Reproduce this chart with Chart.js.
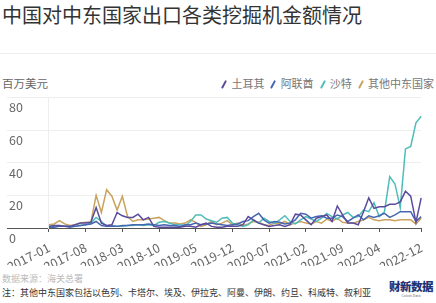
<!DOCTYPE html>
<html>
<head>
<meta charset="utf-8">
<script src="https://cdn.jsdelivr.net/npm/chart.js@4/dist/chart.umd.min.js"></script>
<style>
  body { margin: 0; width: 436px; height: 303px; position: relative; overflow: hidden; background: #fff;
         font-family: "Noto Sans CJK SC", "Noto Sans", sans-serif; }
  .title { position: absolute; left: 2px; top: 1px; font-size: 20px; line-height: 28px; color: #333; white-space: nowrap; }
  .sep { position: absolute; left: 0; right: 0; top: 53px; border-top: 1px solid #eee; }
  .unit { position: absolute; left: 2px; top: 75px; font-size: 11.5px; line-height: 16px; color: #666; }
  .legend { position: absolute; right: 2px; top: 75px; font-size: 11px; line-height: 16px; color: #777; white-space: nowrap; }
  .legend span { margin-left: 8px; }
  .legend i { display: inline-block; width: 2.2px; height: 9px; margin-right: 6px; border-radius: 1px;
              transform: rotate(28deg); vertical-align: -1px; }
  #wrap { position: absolute; left: 0; top: 90px; width: 436px; height: 176px; }
  .source { position: absolute; left: 2px; top: 273px; font-size: 9px; line-height: 12px; color: #bbb; }
  .note { position: absolute; left: 2px; top: 287px; font-size: 9px; line-height: 12px; color: #333; white-space: nowrap; }
  .logo { position: absolute; right: 2px; top: 280px; width: 46px; text-align: center; color: #1e3478; }
  .logo b { display: block; font-size: 11.5px; line-height: 13px; font-weight: 900; letter-spacing: -0.5px; }
  .logo small { display: block; font-size: 6px; line-height: 6px; transform: scale(0.6); color: #667; }
</style>
</head>
<body>
<div class="title">中国对中东国家出口各类挖掘机金额情况</div>
<div class="sep"></div>
<div class="unit">百万美元</div>
<div class="legend" id="legend"></div>
<div id="wrap"><canvas id="chart"></canvas></div>
<div class="source">数据来源：海关总署</div>
<div class="note">注：其他中东国家包括以色列、卡塔尔、埃及、伊拉克、阿曼、伊朗、约旦、科威特、叙利亚</div>
<div class="logo"><b>财新数据</b><small>Caixin Data</small></div>
<script>
// 2017-01 ... 2022-12, monthly
const months = [];
for (let y = 2017; y <= 2022; y++) {
    for (let m = 1; m <= 12; m++) months.push(y + '-' + String(m).padStart(2, '0'));
}
const tickLabels = ['2017-01', '2017-08', '2018-03', '2018-10', '2019-05', '2019-12',
                    '2020-07', '2021-02', '2021-09', '2022-04', '2022-12'];
const yTicks = [0, 20, 40, 60, 80];

// 百万美元
const turkey = [1, 1.5, 1.5, 1, 1, 2, 3, 3, 3.5, 12.5, 3, 1.5,
                2, 9.5, 7.5, 6.5, 6.5, 8.5, 5, 6.5, 1, 0.5, 0.5, 0.5,
                0.5, 0.5, 1, 1, 0.5, 2, 3, 1, 0.5, 0.5, 1, 1,
                1, 2, 7, 5, 3, 2, 1, 1.5, 2, 1, 2, 8.5,
                8, 5, 2, 6, 7, 8, 4, 13.5, 8, 3, 3, 2,
                10, 18.5, 12, 13, 13, 14.5, 14.5, 16, 22.5, 19.5, 3.5, 18.5];
const uae = [0.5, 0.5, 1, 1, 0.5, 1, 1.5, 2, 2.5, 4, 1.5, 1,
             1, 1, 1.5, 1.5, 2, 2, 2, 2.5, 2, 1.5, 2, 1.5,
             1.5, 1, 2, 2, 3, 2, 2.5, 3, 2.5, 2, 1.5, 2,
             2.5, 4, 4.5, 7, 9, 5, 3, 4, 3.5, 2.5, 3, 5,
             9, 8.5, 6, 7, 7.5, 6, 6, 8, 7, 4, 6, 8,
             5, 7.5, 6.5, 7.5, 9, 6.5, 8, 10, 10, 10, 4, 7];
const saudi = [1, 1, 1.5, 1, 1, 1, 1.5, 2, 3, 6.5, 4, 1,
               1.5, 1, 1, 1.5, 1.5, 2, 1.5, 2, 1.5, 3.5, 4, 3,
               2, 2, 1.5, 4, 8, 8, 5.5, 4.5, 3.5, 6, 6.5, 3,
               2, 1, 2, 5, 3, 6, 4, 3, 5, 7.5, 4, 2.5,
               5, 7, 5.5, 4, 6, 9, 7, 5.5, 8, 9.5, 6.5, 7,
               11, 10, 15.5, 7, 10, 31.5, 27, 12.5, 48.5, 50, 64.5, 68.5];
const others = [2, 2.5, 4.5, 2.5, 1.5, 2, 3, 3.5, 3.5, 20, 9.5, 23.5,
                19.5, 11, 19.5, 7, 4, 5, 5, 5.5, 6, 6.5, 4.5, 3,
                3, 2.5, 3, 5, 3.5, 1, 2, 4, 2, 3, 4.5, 2,
                3, 1.5, 2.5, 4, 3.5, 2, 1.5, 3, 2.5, 4, 2, 3,
                4, 3, 2.5, 4, 3, 5.5, 4, 6, 3.5, 3, 3, 4,
                5, 6.5, 5, 4.5, 5, 5, 4.5, 5, 5, 5, 2.5, 6];

const font = { family: '"Noto Sans CJK SC", "Noto Sans", sans-serif', size: 12.5 };

const datasets = [
    { label: '土耳其', data: turkey, borderColor: '#5a4b9c' },
    { label: '阿联酋', data: uae, borderColor: '#4766b1' },
    { label: '沙特', data: saudi, borderColor: '#4fbdb8' },
    { label: '其他中东国家', data: others, borderColor: '#c9a25e' }
].map(d => Object.assign(d, { borderWidth: 1.5, pointRadius: 0, tension: 0, fill: false }));

document.getElementById('legend').innerHTML = datasets
    .map(d => `<span><i style="background:${d.borderColor}"></i>${d.label}</span>`).join('');

new Chart(document.getElementById('chart'), {
    type: 'line',
    data: { labels: months, datasets: datasets },
    options: {
        responsive: true,
        maintainAspectRatio: false,
        animation: false,
        layout: { padding: { left: 2, right: 3, top: 3, bottom: 0 } },
        plugins: { legend: { display: false }, tooltip: { enabled: false } },
        scales: {
            x: {
                afterFit: s => { s.height = 38; },
                border: { display: false },
                grid: {
                    drawOnChartArea: false,
                    tickLength: 4,
                    color: ctx => tickLabels.includes(months[ctx.index]) ? '#555' : 'rgba(0,0,0,0)'
                },
                ticks: {
                    autoSkip: false,
                    maxRotation: 27,
                    minRotation: 27,
                    padding: 8,
                    color: '#666',
                    font: font,
                    callback: function (v) {
                        const l = this.getLabelForValue(v);
                        return tickLabels.includes(l) ? l : '';
                    }
                }
            },
            y: {
                min: 0,
                max: 80,
                afterBuildTicks: s => { s.ticks = yTicks.map(v => ({ value: v })); },
                afterFit: s => { s.width = 40; },
                border: { display: true, color: '#eee' },
                grid: {
                    tickLength: 42,
                    color: ctx => ctx.tick && ctx.tick.value === 0 ? '#555' : '#eee'
                },
                ticks: { crossAlign: 'far', labelOffset: 10, padding: 0, color: '#666', font: font }
            }
        }
    }
});
</script>
</body>
</html>
